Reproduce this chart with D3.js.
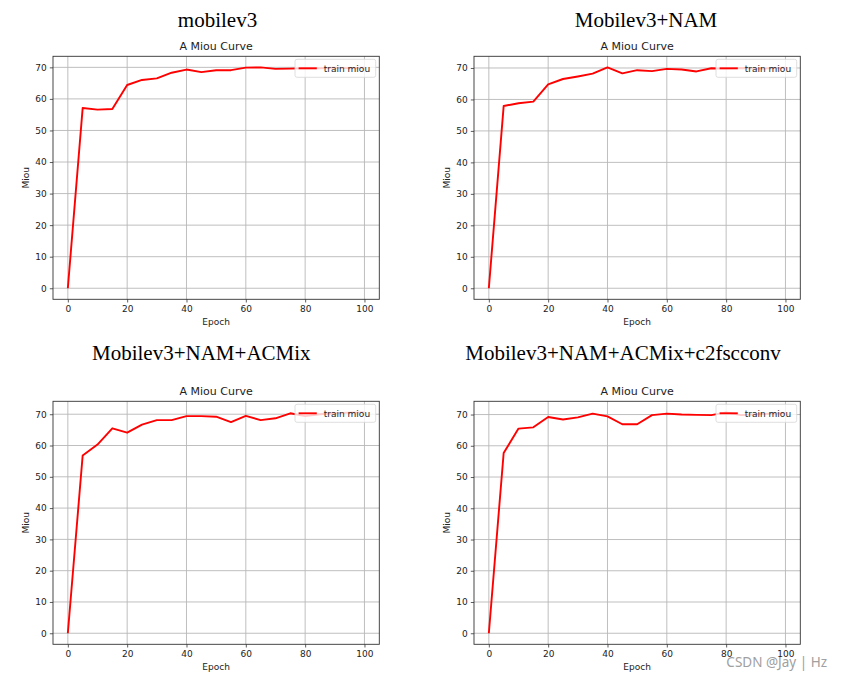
<!DOCTYPE html>
<html>
<head>
<meta charset="utf-8">
<script src="https://cdn.jsdelivr.net/npm/d3@7"></script>
<style>
  html, body { margin: 0; padding: 0; background: #fff; }
  svg { display: block; }
</style>
</head>
<body>
<svg id="chart" width="842" height="679"></svg>
<script>
// ---------------- data ----------------
const epochs = [0, 5, 10, 15, 20, 25, 30, 35, 40, 45, 50, 55, 60, 65, 70, 75, 80, 85, 90, 95, 100];
const mobilev3        = [0, 57.1, 56.6, 56.8, 64.4, 66.0, 66.5, 68.3, 69.3, 68.5, 69.1, 69.1, 69.9, 70.0, 69.5, 69.6, 69.7, 69.7, 69.9, 69.7, 69.9];
const mobilev3NAM     = [0, 57.9, 58.8, 59.3, 64.8, 66.5, 67.3, 68.2, 70.2, 68.3, 69.3, 69.0, 69.7, 69.5, 68.9, 69.9, 69.8, 70.0, 69.8, 69.9, 70.1];
const mobilev3NAMAC   = [0, 56.8, 60.3, 65.5, 64.1, 66.7, 68.1, 68.1, 69.4, 69.4, 69.2, 67.5, 69.5, 68.1, 68.7, 70.3, 69.4, 70.0, 70.3, 70.5, 70.6];
const mobilev3NAMACc2 = [0, 57.7, 65.5, 65.9, 69.2, 68.4, 69.1, 70.3, 69.4, 66.9, 66.9, 69.8, 70.3, 70.0, 69.9, 69.8, 70.7, 69.8, 70.1, 70.3, 70.5];
const seriesList = [mobilev3, mobilev3NAM, mobilev3NAMAC, mobilev3NAMACc2];
const panelTitles = ["mobilev3", "Mobilev3+NAM", "Mobilev3+NAM+ACMix", "Mobilev3+NAM+ACMix+c2fscconv"];
const subTitle = "A Miou Curve";
const xLabel = "Epoch";
const yLabel = "Miou";
const legendLabel = "train miou";
const xTicks = [0, 20, 40, 60, 80, 100];
const yTicks = [0, 10, 20, 30, 40, 50, 60, 70];
const watermark = "CSDN @Jay\u00A0|\u00A0Hz";

// ---------------- layout ----------------
const layout = [
  { ox: 0,   oy: 0,   tx: 217.5, ty: 26.7 },
  { ox: 421, oy: 0,   tx: 646,   ty: 26.7 },
  { ox: 0,   oy: 345, tx: 201.3, ty: 360 },
  { ox: 421, oy: 345, tx: 623,   ty: 360 }
];
const AX = { left: 53, right: 379.3, top: 56.3, bottom: 299.3 };
const SANS = "DejaVu Sans, sans-serif";
const SERIF = "Liberation Serif, Times New Roman, serif";
const FS = 9;

const svg = d3.select("#chart");

function drawPanel(i) {
  const L = layout[i];
  const values = seriesList[i];
  const data = epochs.map((e, k) => ({ x: e, y: values[k] }));
  const left = L.ox + AX.left, right = L.ox + AX.right;
  const top = L.oy + AX.top, bottom = L.oy + AX.bottom;

  const xExt = d3.extent(epochs), xPad = 0.05 * (xExt[1] - xExt[0]);
  const yExt = d3.extent(values), yPad = 0.05 * (yExt[1] - yExt[0]);
  const x = d3.scaleLinear().domain([xExt[0] - xPad, xExt[1] + xPad]).range([left, right]);
  const y = d3.scaleLinear().domain([yExt[0] - yPad, yExt[1] + yPad]).range([bottom, top]);

  const g = svg.append("g");

  // big serif title
  g.append("text")
    .attr("x", L.tx).attr("y", L.ty)
    .attr("text-anchor", "middle")
    .style("font-family", SERIF).style("font-size", "21px").style("fill", "#000")
    .text(panelTitles[i]);

  // subtitle
  g.append("text")
    .attr("x", (left + right) / 2).attr("y", top - 6.5)
    .attr("text-anchor", "middle")
    .style("font-family", SANS).style("font-size", "11px").style("fill", "#222")
    .text(subTitle);

  // grid
  g.append("g").selectAll("line.gx").data(xTicks).join("line")
    .attr("x1", d => x(d)).attr("x2", d => x(d))
    .attr("y1", top).attr("y2", bottom)
    .attr("stroke", "#b8b8b8").attr("stroke-width", 0.9);
  g.append("g").selectAll("line.gy").data(yTicks).join("line")
    .attr("x1", left).attr("x2", right)
    .attr("y1", d => y(d)).attr("y2", d => y(d))
    .attr("stroke", "#b8b8b8").attr("stroke-width", 0.9);

  // line
  const line = d3.line().x(d => x(d.x)).y(d => y(d.y));
  g.append("path").datum(data)
    .attr("d", line)
    .attr("fill", "none").attr("stroke", "#ff0000")
    .attr("stroke-width", 1.9).attr("stroke-linejoin", "round");

  // axes
  const xAxis = g.append("g").attr("transform", `translate(0,${bottom})`)
    .call(d3.axisBottom(x).tickValues(xTicks).tickSize(3.2).tickPadding(3).tickSizeOuter(0));
  const yAxis = g.append("g").attr("transform", `translate(${left},0)`)
    .call(d3.axisLeft(y).tickValues(yTicks).tickSize(3.2).tickPadding(3.2).tickSizeOuter(0));
  [xAxis, yAxis].forEach(a => {
    a.select(".domain").remove();
    a.selectAll(".tick line").attr("stroke", "#333").attr("stroke-width", 0.8);
    a.selectAll(".tick text").style("font-family", SANS).style("font-size", FS + "px").style("fill", "#222");
  });

  // spines
  g.append("rect")
    .attr("x", left).attr("y", top)
    .attr("width", right - left).attr("height", bottom - top)
    .attr("fill", "none").attr("stroke", "#333").attr("stroke-width", 0.9);

  // axis labels
  g.append("text")
    .attr("x", (left + right) / 2).attr("y", bottom + 25.5)
    .attr("text-anchor", "middle")
    .style("font-family", SANS).style("font-size", FS + "px").style("fill", "#222")
    .text(xLabel);
  g.append("text")
    .attr("transform", `translate(${left - 24},${(top + bottom) / 2}) rotate(-90)`)
    .attr("text-anchor", "middle")
    .style("font-family", SANS).style("font-size", FS + "px").style("fill", "#222")
    .text(yLabel);

  // legend
  const lw = 80.7, lh = 18;
  const lx = right - 3.6 - lw, ly = top + 3;
  const lg = g.append("g");
  lg.append("rect")
    .attr("x", lx).attr("y", ly).attr("width", lw).attr("height", lh)
    .attr("rx", 2).attr("ry", 2)
    .attr("fill", "#fff").attr("fill-opacity", 0.8)
    .attr("stroke", "#d6d6d6").attr("stroke-width", 0.8);
  lg.append("line")
    .attr("x1", lx + 3.6).attr("x2", lx + 21.8)
    .attr("y1", ly + lh / 2).attr("y2", ly + lh / 2)
    .attr("stroke", "#ff0000").attr("stroke-width", 1.9);
  lg.append("text")
    .attr("x", lx + 28.8).attr("y", ly + lh / 2 + 3.2)
    .style("font-family", SANS).style("font-size", FS + "px").style("fill", "#222")
    .text(legendLabel);
}

for (let i = 0; i < 4; i++) drawPanel(i);

// watermark (overlaps the last tick labels, as in the reference)
svg.append("text")
  .attr("x", 827).attr("y", 667)
  .attr("text-anchor", "end")
  .style("font-family", "Noto Sans, sans-serif").style("font-size", "13.5px")
  .style("fill", "#a0a0a0")
  .text(watermark);
</script>
</body>
</html>
